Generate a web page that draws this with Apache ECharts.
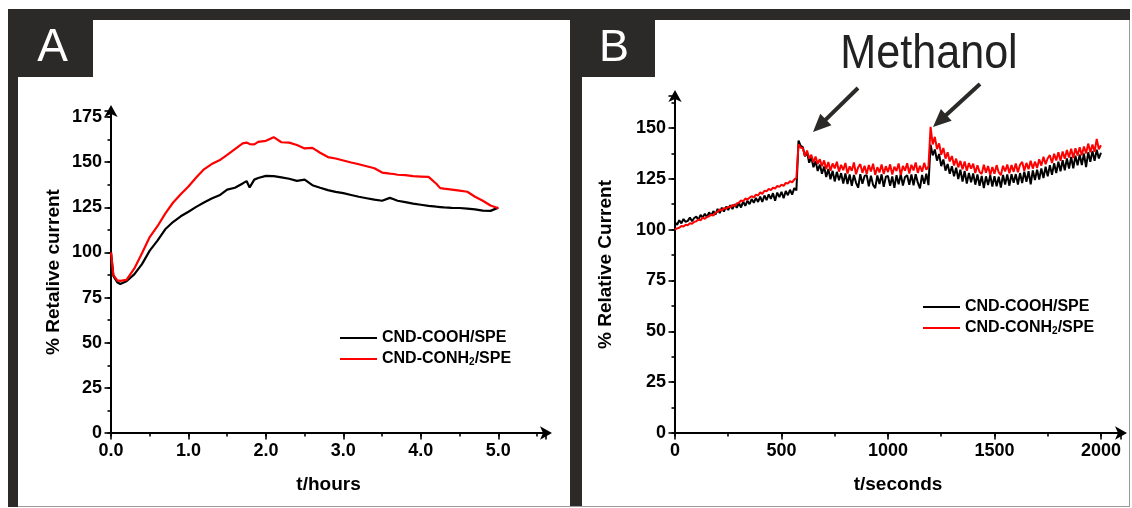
<!DOCTYPE html>
<html><head><meta charset="utf-8">
<script src="https://cdn.jsdelivr.net/npm/echarts@6/dist/echarts.min.js"></script>
<style>html,body{margin:0;padding:0;background:#fff}#c{width:1132px;height:508px}</style>
</head><body><div id="c"></div>
<script>
// ---------- Panel A data (t in hours) ----------
const tA = [0,0.03,0.08,0.12,0.2,0.3,0.4,0.5,0.6,0.7,0.8,0.9,1.0,1.1,1.2,1.3,1.4,1.5,1.6,1.7,1.75,1.79,1.85,1.9,2.0,2.1,2.2,2.3,2.4,2.5,2.6,2.7,2.8,2.9,3.0,3.1,3.2,3.3,3.4,3.5,3.6,3.65,3.7,3.8,3.9,4.0,4.1,4.2,4.25,4.3,4.4,4.5,4.6,4.7,4.8,4.9,5.0];
const aCOOH = [100,87,83.5,82.5,84.0,87.8,93.5,101,106.5,112.8,116.8,120,122.5,125.2,127.6,129.8,131.6,134.8,135.8,138.2,139.5,136.0,140.3,141.2,142.4,142.2,141.5,140.8,139.6,140.3,137.2,135.8,134.5,133.5,132.8,131.8,130.8,130.0,129.2,128.6,130.2,129.4,128.6,127.8,127.0,126.4,125.8,125.3,125.1,124.9,124.7,124.6,124.2,123.8,123.1,123.0,124.8];
const aCONH2 = [100,87.5,84.5,84.2,84.8,91,99.5,108.5,114.5,121.5,127.5,132.2,136.5,141.5,146.0,148.9,151.0,154.0,157.2,160.4,160.8,160.0,159.8,161.2,161.8,163.8,161.0,160.8,159.5,157.6,157.9,155.2,152.8,152.0,150.9,149.8,148.8,147.7,146.6,144.2,143.6,143.4,143.0,142.8,142.2,142.0,141.8,138.0,135.6,135.3,134.8,134.2,133.6,130.8,128.6,126.0,124.4];

// ---------- Panel B data (sampled every 10 s, 0..2000 s) ----------
const bCOOH = [
103.5,102.4,104.6,103.1,105.2,103.8,104.3,106.0,104.1,105.7,
106.4,104.8,107.3,105.9,107.8,106.2,108.5,106.9,109.1,107.4,
110.2,108.1,110.8,108.9,111.3,109.6,112.0,110.1,112.5,110.7,
113.1,110.9,113.8,111.7,114.2,112.5,115.0,113.2,115.6,113.6,
116.2,113.6,116.8,114.5,117.3,115.1,117.9,114.2,118.2,116.0,
118.6,115.4,119.0,116.9,119.6,117.2,120.4,119.3,143.8,141.2,
140.6,136.1,138.0,132.9,135.6,130.7,133.7,128.8,132.0,127.5,
131.0,125.9,129.8,124.8,128.9,123.7,128.4,124.3,127.8,122.6,
127.6,122.4,127.1,121.5,126.9,123.0,120.6,127.3,122.5,126.4,
126.8,121.3,126.5,122.0,120.4,126.6,122.4,127.2,121.0,126.0,
126.4,121.5,126.1,120.5,126.8,122.3,127.3,121.7,125.9,126.7,
122.0,127.1,121.8,127.2,123.1,120.3,126.9,122.5,127.5,121.9,
141.8,136.5,139.4,133.9,137.2,131.2,134.5,129.0,132.3,127.5,
131.2,126.2,130.4,124.9,129.5,123.6,128.8,122.6,127.9,123.3,
127.6,122.1,127.1,121.6,126.4,120.4,126.2,121.9,126.8,121.2,
126.3,121.3,126.0,120.7,126.9,122.2,127.1,121.6,127.2,123.0,
127.3,122.2,127.8,122.9,128.5,123.5,128.7,122.3,129.1,124.4,
129.5,124.6,130.1,125.4,130.9,126.2,131.7,126.9,132.6,127.8,
133.4,128.7,134.1,129.2,135.0,130.0,135.7,130.1,136.4,131.6,
136.9,131.8,137.4,130.7,138.0,133.4,138.7,133.8,139.3,135.0,
137.8];
const bCONH2 = [
100.0,100.6,100.9,101.8,101.5,102.4,102.2,103.1,102.9,103.8,
104.1,105.0,104.5,105.9,105.3,106.2,106.6,107.4,106.9,108.2,
108.8,109.9,109.4,110.6,110.2,111.3,110.9,112.2,111.6,112.9,
113.2,114.4,113.9,115.3,114.8,115.7,116.4,115.9,117.2,116.8,
118.3,117.6,119.1,118.8,120.0,119.4,120.6,120.2,121.5,121.0,
122.1,121.5,123.0,122.6,123.8,123.2,124.6,125.5,142.0,140.2,
140.1,136.2,138.9,135.0,136.8,133.1,135.9,132.4,134.6,131.2,
134.0,129.8,133.2,128.9,132.5,130.1,133.4,128.5,131.9,129.2,
132.8,127.6,131.1,128.9,133.0,127.2,130.6,132.2,127.9,131.4,
127.3,131.8,128.6,132.4,126.9,130.7,128.1,132.0,127.4,131.2,
128.3,132.1,127.1,130.9,128.8,132.5,126.8,131.3,129.0,132.6,
127.6,131.9,129.1,133.0,127.9,131.4,128.5,132.8,129.4,131.0,
150.5,141.9,145.6,139.6,142.4,136.8,140.1,134.9,138.0,133.5,
136.2,131.5,134.9,130.6,133.8,129.7,133.5,128.9,132.7,130.0,
132.4,127.8,131.6,128.3,127.4,131.9,128.0,131.3,126.9,130.8,
127.5,131.7,128.1,126.8,131.4,128.6,132.0,127.7,131.8,128.4,
132.5,128.2,131.9,133.3,128.9,132.8,129.7,133.9,130.0,133.4,
130.3,134.6,131.5,135.8,132.2,135.1,136.6,132.7,137.3,134.0,
138.0,133.9,138.4,134.8,139.1,135.5,139.8,135.2,140.0,136.4,
140.5,136.6,140.9,137.5,142.3,138.0,141.8,138.3,144.6,139.5,
141.5];
const stepB = 10; // seconds between samples
const tB = bCOOH.map((_, i) => i * stepB);

// ---------- tick labels ----------
const xLabelsA = ['0.0','1.0','2.0','3.0','4.0','5.0'];
const yLabelsA = ['0','25','50','75','100','125','150','175'];
const xLabelsB = ['0','500','1000','1500','2000'];
const yLabelsB = ['0','25','50','75','100','125','150'];

const names = ['CND-COOH/SPE', 'CND-CONH2/SPE'];
const colors = ['#000000', '#ff0000'];

const FONT = "'Liberation Sans', Arial, sans-serif";
const DARK = '#2b2a28';

function pairs(xs, ys){ return xs.map((x,i)=>[x, ys[i]]); }

function labelText(list, step){
  return v => { const k = Math.round(v/step); return (Math.abs(v - k*step) < 1e-6 && list[k] !== undefined) ? list[k] : ''; };
}

function mainAxis(dim, grid, min, max, interval, labels, labelStep, name, nameGap){
  return {
    type:'value', gridIndex:grid, min:min, max:max, interval:interval,
    position: dim==='x' ? 'bottom' : 'left',
    splitLine:{show:false},
    axisLine:{show:true, onZero:false, symbol:['none','arrow'], symbolSize:[10,12], symbolOffset:[0,6], lineStyle:{color:'#000', width:2}},
    axisTick:{show:true, length:3.5, lineStyle:{color:'#000', width:1.6}},
    axisLabel:{show:true, color:'#000', fontFamily:FONT, fontWeight:'bold', fontSize:18, margin:9,
      showMaxLabel:false, hideOverlap:false, formatter: labelText(labels, labelStep)},
    name:name, nameLocation:'middle', nameGap:nameGap,
    nameTextStyle:{color:'#000', fontFamily:FONT, fontWeight:'bold', fontSize:19}
  };
}
function decoAxis(dim, grid, min, max, interval){
  return {
    type:'value', gridIndex:grid, min:min, max:max, interval:interval,
    position: dim==='x' ? 'bottom' : 'left',
    splitLine:{show:false},
    axisLine:{show:false, onZero:false},
    axisTick:{show:true, length:6.5, lineStyle:{color:'#000', width:1.6}},
    axisLabel:{show:false}
  };
}

function arrow(x1,y1,x2,y2){
  const dx=x2-x1, dy=y2-y1, L=Math.hypot(dx,dy), ux=dx/L, uy=dy/L;
  const hl=18, hw=8;
  const bx=x2-ux*hl, by=y2-uy*hl;
  return [
    {type:'line', shape:{x1:x1,y1:y1,x2:bx+ux*2,y2:by+uy*2}, style:{stroke:DARK, lineWidth:4}},
    {type:'polygon', shape:{points:[[x2,y2],[bx-uy*hw,by+ux*hw],[bx+uy*hw,by-ux*hw]]}, style:{fill:DARK}}
  ];
}

const legendCommon = {
  orient:'vertical', icon:'rect', itemWidth:37, itemHeight:2, itemGap:5,
  data:names, selectedMode:false,
  formatter: n => n === 'CND-CONH2/SPE' ? '{t|CND-CONH}{s|2}{t|/SPE}' : '{t|' + n + '}',
  textStyle:{ color:'#000', rich:{
    t:{fontFamily:FONT, fontWeight:'bold', fontSize:16, lineHeight:17, color:'#000'},
    s:{fontFamily:FONT, fontWeight:'bold', fontSize:10, lineHeight:10, verticalAlign:'bottom', color:'#000'}
  }}
};

const chart = echarts.init(document.getElementById('c'), null, {renderer:'canvas'});
const option = {
  backgroundColor:'#ffffff',
  animation:false,
  grid:[
    {left:111, top:111, width:435, height:322},
    {left:675, top:96, width:446, height:337}
  ],
  xAxis:[
    mainAxis('x', 0, 0, 5.616, 0.5, xLabelsA, 1, 't/hours', 42),
    decoAxis('x', 0, 0, 5.616, 1),
    mainAxis('x', 1, 0, 2094, 250, xLabelsB, 500, 't/seconds', 42),
    decoAxis('x', 1, 0, 2094, 500)
  ],
  yAxis:[
    mainAxis('y', 0, 0, 178.3, 12.5, yLabelsA, 25, '% Retalive current', 48),
    decoAxis('y', 0, 0, 178.3, 25),
    mainAxis('y', 1, 0, 165.7, 12.5, yLabelsB, 25, '% Relative Current', 60),
    decoAxis('y', 1, 0, 165.7, 25)
  ],
  legend:[
    Object.assign({}, legendCommon, {left:335, top:325}),
    Object.assign({}, legendCommon, {left:918, top:294})
  ],
  series:[
    {name:names[0], type:'line', xAxisIndex:0, yAxisIndex:0, data:pairs(tA, aCOOH), symbol:'none', color:colors[0], lineStyle:{width:2.2, color:colors[0]}},
    {name:names[1], type:'line', xAxisIndex:0, yAxisIndex:0, data:pairs(tA, aCONH2), symbol:'none', color:colors[1], lineStyle:{width:2.2, color:colors[1]}},
    {name:names[0], type:'line', xAxisIndex:2, yAxisIndex:2, data:pairs(tB, bCOOH), symbol:'none', color:colors[0], lineStyle:{width:2, color:colors[0]}},
    {name:names[1], type:'line', xAxisIndex:2, yAxisIndex:2, data:pairs(tB, bCONH2), symbol:'none', color:colors[1], lineStyle:{width:2, color:colors[1]}}
  ],
  graphic:[
    {type:'rect', shape:{x:8, y:9, width:1122, height:11}, style:{fill:DARK}},
    {type:'rect', shape:{x:8, y:9, width:10, height:498}, style:{fill:DARK}},
    {type:'rect', shape:{x:8, y:9, width:85, height:68}, style:{fill:DARK}},
    {type:'rect', shape:{x:570, y:9, width:12, height:498}, style:{fill:DARK}},
    {type:'rect', shape:{x:570, y:9, width:85, height:68}, style:{fill:DARK}},
    {type:'line', shape:{x1:18, y1:506.5, x2:1130, y2:506.5}, style:{stroke:'#9a9a9a', lineWidth:1}},
    {type:'line', shape:{x1:1129.5, y1:20, x2:1129.5, y2:507}, style:{stroke:'#9a9a9a', lineWidth:1}},
    {type:'text', x:52.5, y:48, style:{text:'A', fill:'#ffffff', font:'46px ' + FONT, textAlign:'center', textVerticalAlign:'middle'}},
    {type:'text', x:614, y:49, style:{text:'B', fill:'#ffffff', font:'45px ' + FONT, textAlign:'center', textVerticalAlign:'middle'}},
    {type:'text', x:929, y:54, scaleX:0.88, style:{text:'Methanol', fill:'#222222', font:'49px ' + FONT, textAlign:'center', textVerticalAlign:'middle'}}
  ].concat(arrow(858, 88, 813, 132), arrow(980, 84, 933, 127))
};
chart.setOption(option);
</script>
</body></html>
